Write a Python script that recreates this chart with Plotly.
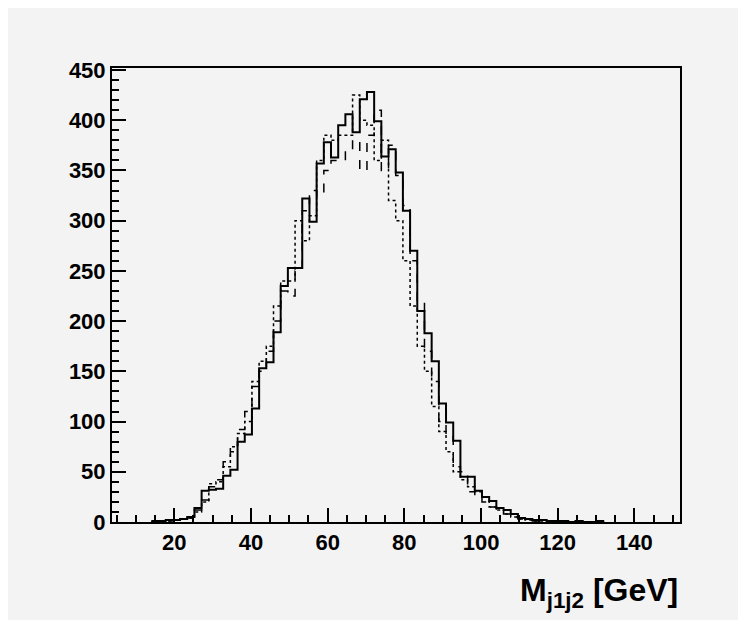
import numpy as np
import plotly.graph_objects as go

# bins of 150/80 GeV, first listed bin starts at 7*1.875 (+ small offset)
bin_w = 1.875
first_edge = 14.0
solid = [1, 1, 2, 2, 3, 5, 14, 31, 32, 33, 46, 52, 80, 87, 113, 153, 159, 189, 235, 253, 253, 322, 299,
         357, 378, 363, 395, 406, 388, 421, 428, 399, 364, 371, 348, 310, 270, 210, 188, 160, 118, 99, 81,
         45, 45, 31, 25, 21, 14, 12, 8, 4, 3, 2, 2, 1, 1, 1, 0, 1, 0, 0, 1]
dotted = [0, 1, 1, 2, 3, 4, 10, 20, 38, 40, 55, 75, 88, 100, 140, 160, 175, 215, 240, 240, 300, 280, 305,
          360, 385, 380, 385, 385, 425, 400, 395, 360, 380, 320, 300, 260, 215, 175, 150, 115, 90, 70,
          50, 42, 35, 30, 25, 15, 12, 8, 5, 3, 2, 1, 1, 0, 1, 0, 0, 1, 0, 0, 0]
dashed = [0, 1, 1, 2, 3, 4, 12, 22, 35, 42, 60, 70, 92, 110, 135, 150, 170, 200, 230, 225, 250, 310, 330,
          325, 350, 360, 360, 370, 380, 350, 385, 410, 350, 375, 345, 315, 260, 220, 170, 140, 100, 85,
          55, 50, 30, 25, 20, 15, 10, 8, 5, 3, 2, 1, 1, 0, 1, 0, 0, 1, 0, 0, 0]


def steps(vals):
    edges = first_edge + np.arange(len(vals) + 1) * bin_w
    y = list(vals) + [vals[-1]]
    return edges, y


fig = go.Figure()
for vals, dash, w in [(dotted, "dot", 1.5), (dashed, "dash", 1.5), (solid, "solid", 2)]:
    x, y = steps(vals)
    fig.add_trace(go.Scatter(x=x, y=y, mode="lines", line_shape="hv",
                             line=dict(color="black", width=w, dash=dash), showlegend=False))

tick_font = dict(size=22, family="Liberation Sans", weight="bold", color="black")
fig.update_layout(
    width=746, height=620,
    margin=dict(l=104, r=74, t=60, b=106),
    paper_bgcolor="#f3f3f3", plot_bgcolor="#f3f3f3",
)
fig.update_xaxes(range=[3.75, 151.9], tickvals=[20, 40, 60, 80, 100, 120, 140],
                 ticks="inside", ticklen=14, tickwidth=1.5, tickcolor="black",
                 minor=dict(dtick=5, ticks="inside", ticklen=7, tickcolor="black"),
                 showgrid=False, zeroline=False, showline=True, linecolor="black", linewidth=2,
                 mirror=True, tickfont=tick_font)
fig.update_yaxes(range=[0, 452], dtick=50, ticks="inside", ticklen=14, tickwidth=1.5, tickcolor="black",
                 minor=dict(dtick=10, ticks="inside", ticklen=7, tickcolor="black"),
                 showgrid=False, zeroline=False, showline=True, linecolor="black", linewidth=2,
                 mirror=True, tickfont=tick_font)
fig.add_annotation(text="<b>M<sub>j1j2</sub> [GeV]</b>", xref="paper", yref="paper", x=1.0, y=-0.105,
                   xanchor="right", yanchor="top", showarrow=False,
                   font=dict(size=32, family="Liberation Sans", color="black"))

fig.write_html("out.html")
